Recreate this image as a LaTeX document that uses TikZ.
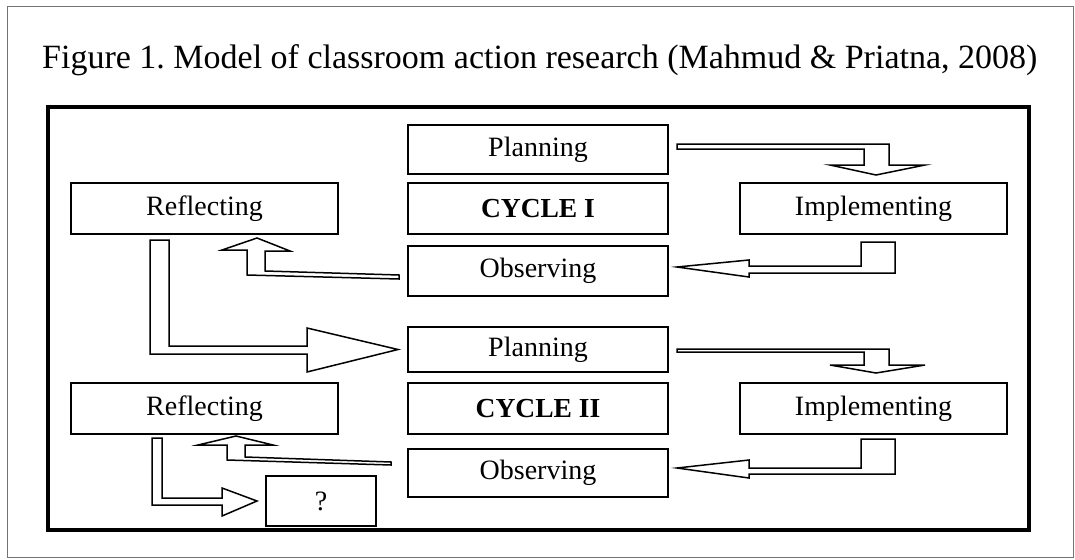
\documentclass[tikz,border=0pt]{standalone}
\usepackage{fontspec}
\setmainfont{Liberation Serif}
\usepackage{tikz}
\usetikzlibrary{calc}
\usetikzlibrary{positioning}
\tikzset{%
  mybox/.style={rectangle,draw,line width=1.8pt,minimum width=260pt,minimum height=50pt,
    inner sep=0pt,outer sep=0pt,font=\fontsize{28}{33}\selectfont},
  mysidebox/.style={mybox,minimum width=267pt},
  mycyclebox/.style={mybox,font=\fontsize{27.5}{33}\selectfont\bfseries},
  myblockarrow/.style={draw,line width=1.5pt,fill=white,line join=miter},
  myframe/.style={draw=black,line width=4pt},
  myborder/.style={draw=black!55,line width=1pt}
}
\newcommand\mysidegap{70pt}
\frenchspacing

\begin{document}
\begin{tikzpicture}[x=1pt,y=-1pt]
    \useasboundingbox (0,0) rectangle (1075,559);
    \draw[myborder] (7,7) rectangle (1073,557);
    \node[anchor=base west,inner sep=0pt,font=\fontsize{34}{40}\selectfont] (title) at (42,69)
        {Figure 1. Model of classroom action research (Mahmud \& Priatna, 2008)};
    \draw[myframe] (48,107) rectangle (1029,530);
    % cycle I
    \node[mybox,minimum height=49pt] (plan1) at (538,149.5) {Planning};
    \node[mycyclebox,minimum height=51pt,below=9pt of plan1] (cyc1) {CYCLE I};
    \node[mybox,below=12pt of cyc1] (obs1) {Observing};
    \node[mysidebox,minimum height=51pt,left=\mysidegap of cyc1] (refl1) {Reflecting};
    \node[mysidebox,minimum height=51pt,right=72pt of cyc1] (impl1) {Implementing};
    % cycle II
    \node[mybox,minimum height=45pt,below=31pt of obs1] (plan2) {Planning};
    \node[mycyclebox,minimum height=51pt,below=11pt of plan2] (cyc2) {CYCLE II};
    \node[mybox,minimum height=48pt,below=15pt of cyc2] (obs2) {Observing};
    \node[mysidebox,minimum height=51pt,left=\mysidegap of cyc2] (refl2) {Reflecting};
    \node[mysidebox,minimum height=51pt,right=72pt of cyc2] (impl2) {Implementing};
    \node[mybox,minimum width=110pt] (next) at (321,501) {?};
    % block arrows of cycle I
    \draw[myblockarrow] ($(plan1.east)+(9,-5.5)$) -- ++(212,0) -- ++(0,21) -- ++(36,0)
        -- ($(impl1.north)+(2.5,-8)$) -- ++(-46,-10) -- ++(34,0) -- ++(0,-16) -- ++(-187,0) -- cycle;
    \draw[myblockarrow] ($(impl1.south)+(-12.5,8)$) -- ++(34,0) -- ++(0,31) -- ++(-146,0) -- ++(0,4)
        -- ($(obs1.east)+(9,-4)$) -- ++(72,-7) -- ++(0,6) -- ++(112,0) -- cycle;
    \draw[myblockarrow] ($(obs1.west)+(-9,4)$) -- ++(-134,-4) -- ++(0,-20) -- ++(25,0)
        -- ($(refl1.south)+(52.5,4)$) -- ++(-35,12) -- ++(25,0) -- ++(0,25) -- ++(152,4) -- cycle;
    \draw[myblockarrow] ($(refl1.south)+(-54.5,6)$) -- ++(19,0) -- ++(0,106) -- ++(138,0) -- ++(0,-18)
        -- ($(plan2.west)+(-10,0)$) -- ++(-91,22.5) -- ++(0,-18) -- ++(-157,0) -- cycle;
    % block arrows of cycle II
    \draw[myblockarrow] ($(plan2.east)+(9,-0.5)$) -- ++(212,0) -- ++(0,16) -- ++(36,0)
        -- ($(impl2.north)+(2.5,-10)$) -- ++(-46,-8) -- ++(34,0) -- ++(0,-13) -- ++(-187,0) -- cycle;
    \draw[myblockarrow] ($(impl2.south)+(-12.5,5)$) -- ++(34,0) -- ++(0,35) -- ++(-146,0) -- ++(0,4)
        -- ($(obs2.east)+(9,-5)$) -- ++(72,-8) -- ++(0,8) -- ++(112,0) -- cycle;
    \draw[myblockarrow] ($(obs2.west)+(-17,-11)$) -- ++(-146,-5) -- ++(0,-12) -- ++(28,0)
        -- ($(refl2.south)+(31.5,2)$) -- ++(-38,9) -- ++(29,0) -- ++(0,15) -- ++(164,5) -- cycle;
    \draw[myblockarrow] ($(refl2.south)+(-52.5,4)$) -- ++(10,0) -- ++(0,60) -- ++(60,0) -- ++(0,-10)
        -- ($(next.west)+(-9,0)$) -- ++(-35,15) -- ++(0,-11) -- ++(-70,0) -- cycle;
\end{tikzpicture}
\end{document}
